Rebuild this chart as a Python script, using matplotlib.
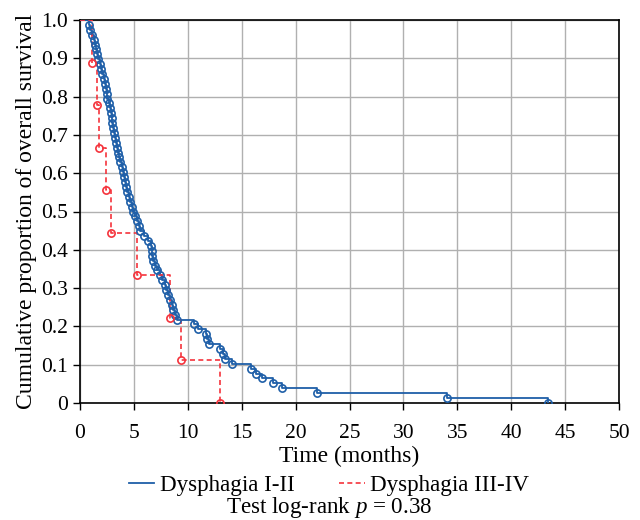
import matplotlib
matplotlib.use("Agg")
import matplotlib.pyplot as plt
from matplotlib.font_manager import FontProperties
import numpy as np

# Event times (months)
blue_times = [0.83, 0.95, 1.1, 1.3, 1.4, 1.5, 1.6, 1.7, 1.85, 1.95,
              2.05, 2.2, 2.3, 2.4, 2.5, 2.55, 2.65, 2.75, 2.85, 2.95,
              3.0, 3.1, 3.2, 3.25, 3.35, 3.4, 3.5, 3.65, 3.75, 3.85,
              4.0, 4.05, 4.15, 4.25, 4.4, 4.5, 4.65, 4.8, 4.9, 5.1,
              5.3, 5.45, 5.6, 5.9, 6.3, 6.6, 6.65, 6.7, 6.75, 6.95,
              7.15, 7.4, 7.6, 7.85, 8.0, 8.2, 8.35, 8.5, 8.65, 8.8,
              8.97, 10.58, 10.9, 11.65, 11.8, 12.0, 12.99, 13.24, 13.45, 14.07,
              15.9, 16.3, 16.85, 17.93, 18.7, 21.95, 34.0, 43.4]
red_times = [1.15, 1.55, 1.79, 2.45, 2.88, 5.26, 8.38, 9.35, 13.0]

labels = ["Dysphagia I-II", "Dysphagia III-IV"]
x_ticks = list(range(0, 51, 5))
y_ticks = [0, 0.1, 0.2, 0.3, 0.4, 0.5, 0.6, 0.7, 0.8, 0.9, 1.0]
y_tick_labels = ["0", "0.1", "0.2", "0.3", "0.4", "0.5", "0.6", "0.7", "0.8", "0.9", "1.0"]


def km(times):
    t = np.sort(np.asarray(times, dtype=float))
    n = len(t)
    s = 1.0 - np.arange(1, n + 1) / n
    return t, s


plt.rcParams['font.family'] = ['Liberation Serif', 'DejaVu Serif']
plt.rcParams['mathtext.fontset'] = 'custom'
plt.rcParams['mathtext.it'] = 'Liberation Serif:italic'
plt.rcParams['mathtext.rm'] = 'Liberation Serif'

fs = 15.5
fs_lab = 17
fs_leg = 16.6
fig = plt.figure(figsize=(6.4, 5.2), dpi=100)
ax = fig.add_axes([80 / 640, 1 - 403 / 520, (619 - 80) / 640, (403 - 20) / 520])

blue = '#1f5fa8'
red = '#f5333c'

bt, bs = km(blue_times)
rt, rs = km(red_times)

ax.step(np.r_[0, bt], np.r_[1, bs], where='post', color=blue, lw=1.3,
        label=labels[0], zorder=3)
ax.plot(bt, bs, 'o', mfc='none', mec=blue, ms=5.2, mew=1.2, zorder=4)
ax.step(np.r_[0, rt], np.r_[1, rs], where='post', color=red, lw=1.2,
        ls=(0, (3, 2)), label=labels[1], zorder=3)
ax.plot(rt, rs, 'o', mfc='none', mec=red, ms=5.2, mew=1.2, zorder=4)

ax.set_xlim(0, 50)
ax.set_ylim(0, 1.0)
ax.set_xticks(x_ticks)
ax.set_yticks(y_ticks)
ax.set_yticklabels(y_tick_labels)
ax.tick_params(labelsize=fs, direction='out', length=5, width=1, colors='black')
ax.tick_params(axis='x', pad=10)
ax.grid(True, color='#b0b0b0', lw=1)
ax.set_axisbelow(True)
for sp in ax.spines.values():
    sp.set_color('black')
    sp.set_linewidth(1.2)

ax.set_xlabel("Time (months)", fontsize=fs_lab, labelpad=2)
ax.set_ylabel("Cumulative proportion of overall survival", fontsize=fs_lab, labelpad=3)

handles, lbls = ax.get_legend_handles_labels()
fig.legend(handles, lbls, loc='center', bbox_to_anchor=(329 / 640, 1 - 485 / 520),
           ncol=2, frameon=False, prop=FontProperties(family='Liberation Serif', size=fs_leg),
           handlelength=1.1, handletextpad=0.25,
           columnspacing=1.95, borderpad=0, borderaxespad=0)
fig.text(329 / 640, 1 - 507 / 520, r"Test log-rank $p$ = 0.38", ha='center', va='center',
         fontsize=fs_leg)

fig.savefig("out.png", dpi=100)
